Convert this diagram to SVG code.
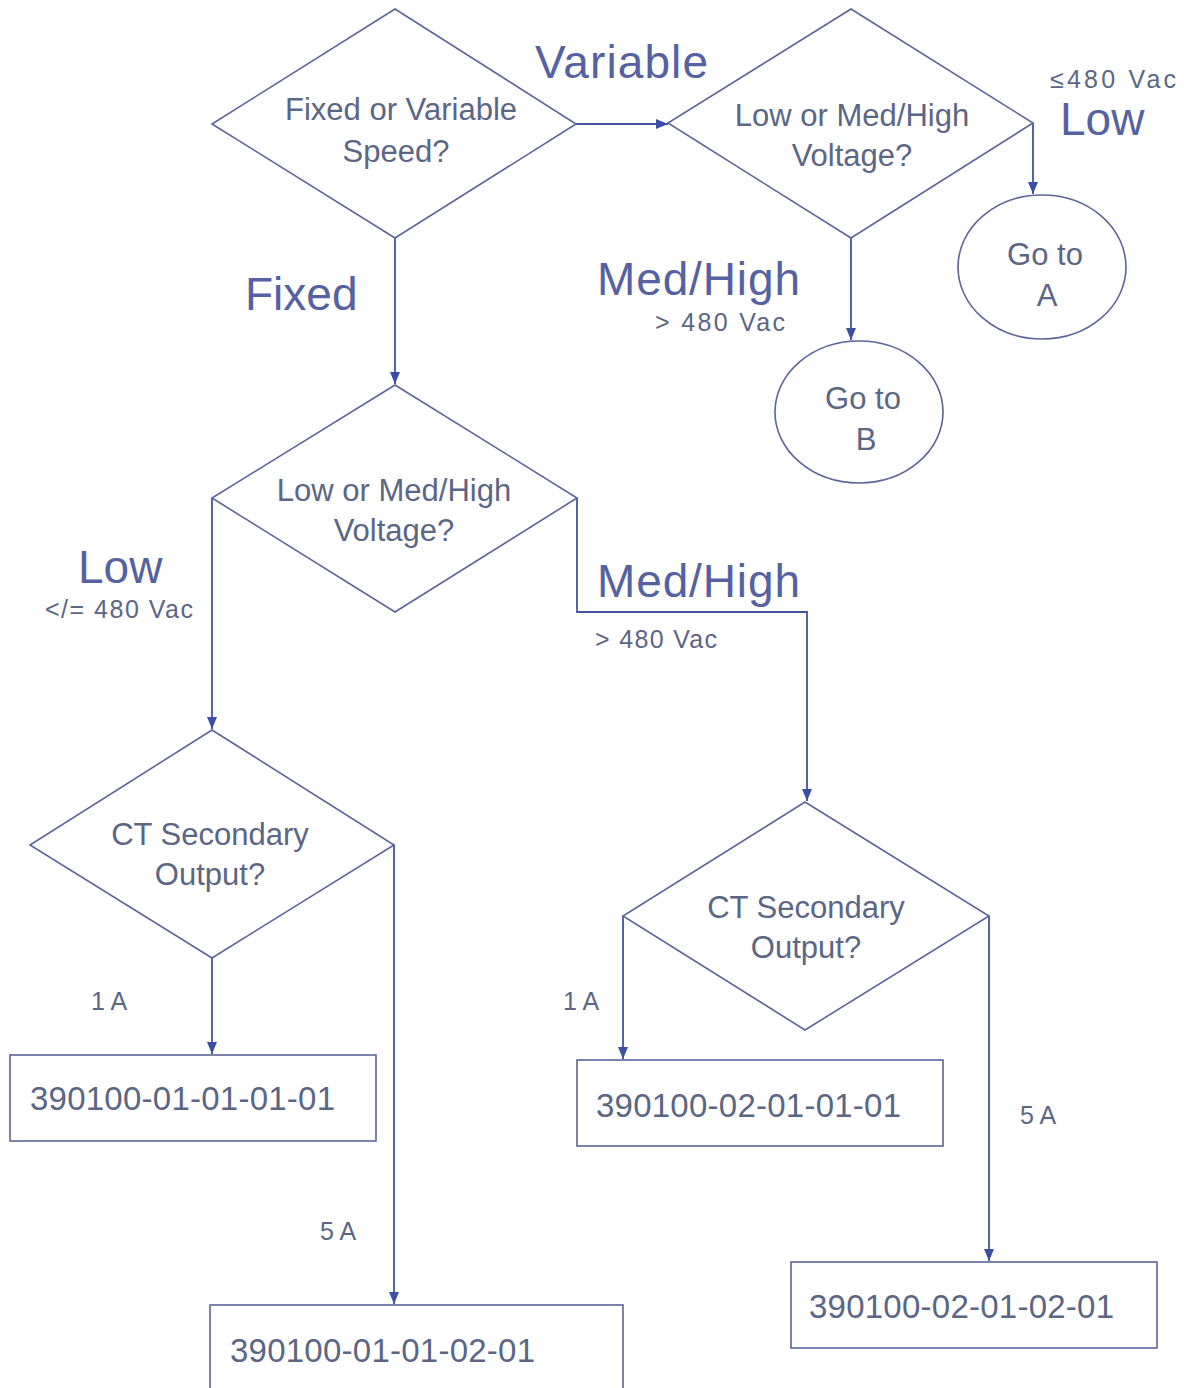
<svg xmlns="http://www.w3.org/2000/svg" width="1184" height="1388" viewBox="0 0 1184 1388">
<style>
.shape{fill:none;stroke:#5b6597;stroke-width:1.6}
.conn{fill:none;stroke:#4553a0;stroke-width:1.8}
.t{font-family:"Liberation Sans",Arial,sans-serif;fill:#5b6684;text-anchor:middle}
.q{font-size:31px}
.code{font-size:33px;fill:#5b6684;font-family:"Liberation Sans",Arial,sans-serif}
.big{font-family:"Liberation Sans",Arial,sans-serif;font-size:46px;fill:#5561a0}
.sm{font-family:"Liberation Sans",Arial,sans-serif;font-size:25px;fill:#5b6684}
</style>
<defs>
<marker id="ah" viewBox="0 0 12 10" refX="12" refY="5" markerWidth="12" markerHeight="10" markerUnits="userSpaceOnUse" orient="auto">
<path d="M0,0 L12,5 L0,10 Z" fill="#3d4fa5"/>
</marker>
</defs>
<rect width="1184" height="1388" fill="#ffffff"/>

<g id="connectors">
<path class="conn" d="M576,124 H668" marker-end="url(#ah)"/>
<path class="conn" d="M1033,123 V194" marker-end="url(#ah)"/>
<path class="conn" d="M851,238 V340" marker-end="url(#ah)"/>
<path class="conn" d="M395,238 V384" marker-end="url(#ah)"/>
<path class="conn" d="M212,498 V729" marker-end="url(#ah)"/>
<path class="conn" d="M577,498 V612 H807 V801" marker-end="url(#ah)"/>
<path class="conn" d="M212,958 V1054" marker-end="url(#ah)"/>
<path class="conn" d="M394,845 V1304" marker-end="url(#ah)"/>
<path class="conn" d="M623,916 V1059" marker-end="url(#ah)"/>
<path class="conn" d="M989,916 V1261" marker-end="url(#ah)"/>
</g>

<g id="labels">
<text class="big" x="535" y="78" textLength="173">Variable</text>
<text class="sm" x="1050" y="88" textLength="126">≤480  Vac</text>
<text class="big" x="1060" y="135">Low</text>
<text class="big" x="597" y="295" textLength="203">Med/High</text>
<text class="sm" x="655" y="331" textLength="130">&gt;  480 Vac</text>
<text class="big" x="245" y="310">Fixed</text>
<text class="big" x="78" y="583">Low</text>
<text class="sm" x="45" y="618" textLength="148">&lt;/= 480 Vac</text>
<text class="big" x="597" y="597" textLength="203">Med/High</text>
<text class="sm" x="595" y="648" textLength="122">&gt; 480 Vac</text>
<text class="sm" x="91" y="1010">1 A</text>
<text class="sm" x="320" y="1240">5 A</text>
<text class="sm" x="563" y="1010">1 A</text>
<text class="sm" x="1020" y="1124">5 A</text>
</g>

<g id="d-speed">
<polygon class="shape" points="395,9 576,124 395,238 212,124"/>
<text class="t q" x="401" y="120">Fixed or Variable</text>
<text class="t q" x="396" y="162">Speed?</text>
</g>

<g id="d-voltage-var">
<polygon class="shape" points="851,9 1033,123 851,238 668,123"/>
<text class="t q" x="852" y="126">Low or Med/High</text>
<text class="t q" x="852" y="166">Voltage?</text>
</g>

<g id="c-goto-a">
<ellipse class="shape" cx="1042" cy="267" rx="84" ry="72"/>
<text class="t q" x="1045" y="265">Go to</text>
<text class="t q" x="1047" y="306">A</text>
</g>

<g id="c-goto-b">
<ellipse class="shape" cx="859" cy="412" rx="84" ry="71"/>
<text class="t q" x="863" y="409">Go to</text>
<text class="t q" x="866" y="450">B</text>
</g>

<g id="d-voltage-fixed">
<polygon class="shape" points="395,385 577,498 395,612 212,498"/>
<text class="t q" x="394" y="501">Low or Med/High</text>
<text class="t q" x="394" y="541">Voltage?</text>
</g>

<g id="d-ct-low">
<polygon class="shape" points="212,730 394,845 212,958 30,845"/>
<text class="t q" x="210" y="845">CT Secondary</text>
<text class="t q" x="210" y="885">Output?</text>
</g>

<g id="d-ct-med">
<polygon class="shape" points="805,802 989,916 805,1030 623,916"/>
<text class="t q" x="806" y="918">CT Secondary</text>
<text class="t q" x="806" y="958">Output?</text>
</g>

<g id="b-01-01-01-01">
<rect class="shape" x="10" y="1055" width="366" height="86"/>
<text class="code" x="30" y="1110" textLength="305">390100-01-01-01-01</text>
</g>

<g id="b-02-01-01-01">
<rect class="shape" x="577" y="1060" width="366" height="86"/>
<text class="code" x="596" y="1117" textLength="305">390100-02-01-01-01</text>
</g>

<g id="b-01-01-02-01">
<rect class="shape" x="210" y="1305" width="413" height="100"/>
<text class="code" x="230" y="1362" textLength="305">390100-01-01-02-01</text>
</g>

<g id="b-02-01-02-01">
<rect class="shape" x="791" y="1262" width="366" height="86"/>
<text class="code" x="809" y="1318" textLength="305">390100-02-01-02-01</text>
</g>
</svg>
